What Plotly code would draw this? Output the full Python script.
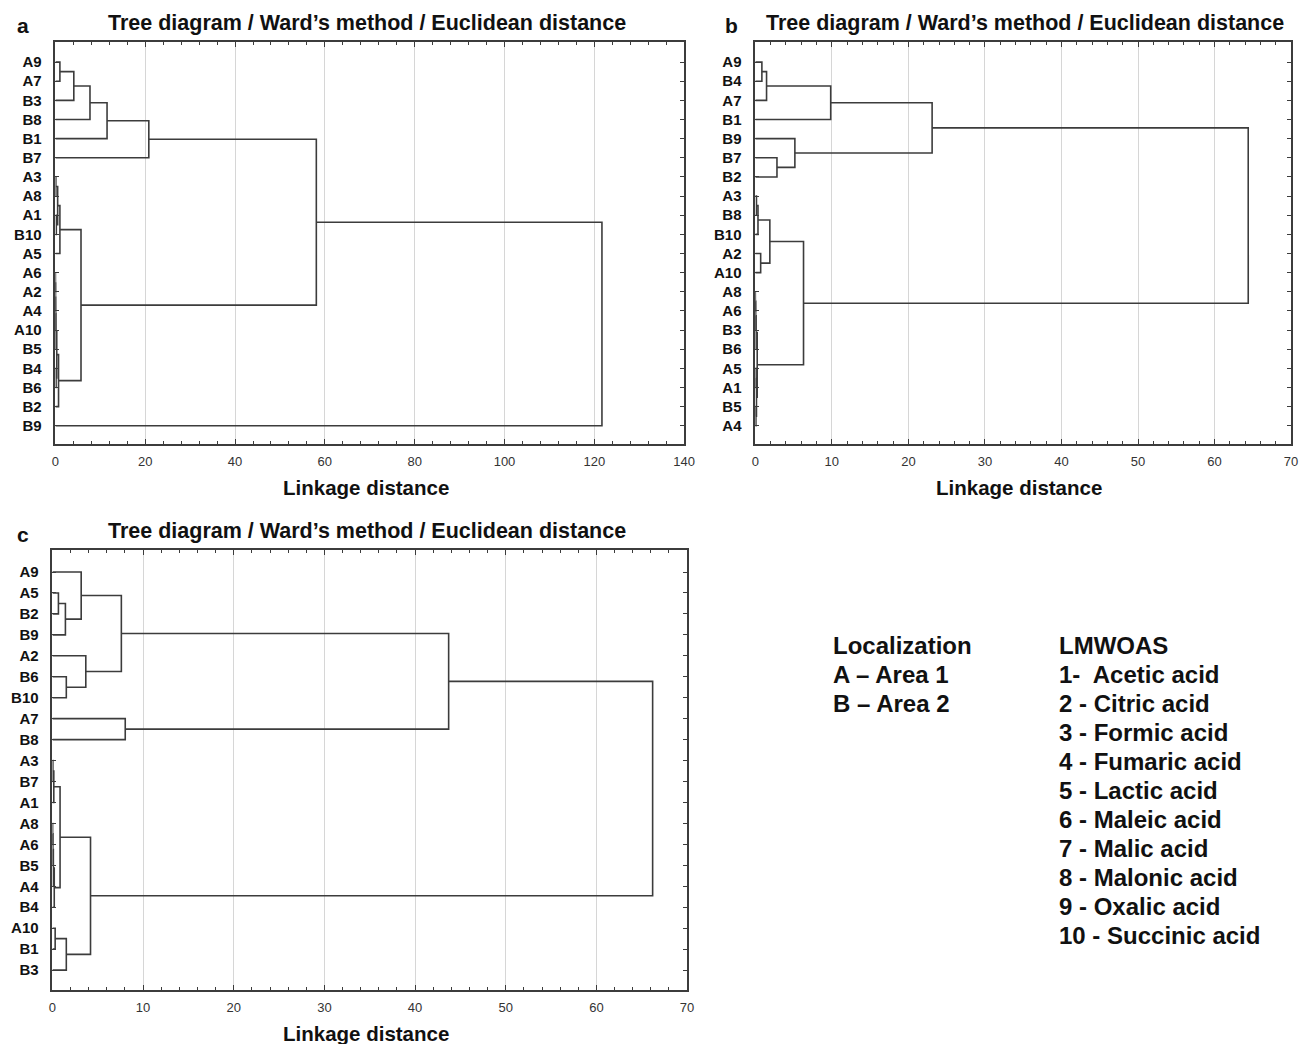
import plotly.graph_objects as go

# ---------------- data ----------------
leaves_a = ["A9", "A7", "B3", "B8", "B1", "B7", "A3", "A8", "A1", "B10",
            "A5", "A6", "A2", "A4", "A10", "B5", "B4", "B6", "B2", "B9"]
# merges: (child1, child2, linkage distance); ints refer to earlier merges
merges_a = [
    ("A9", "A7", 1.0),      # 0
    (0, "B3", 4.1),         # 1
    (1, "B8", 7.7),         # 2
    (2, "B1", 11.5),        # 3
    (3, "B7", 20.8),        # 4
    ("A3", "A8", 0.1),      # 5
    ("A1", "B10", 0.2),     # 6
    (5, 6, 0.5),            # 7
    (7, "A5", 1.0),         # 8
    ("A6", "A2", 0.02),     # 9
    (9, "A4", 0.03),        # 10
    (10, "A10", 0.05),      # 11
    (11, "B5", 0.1),        # 12
    ("B4", "B6", 0.15),     # 13
    (12, 13, 0.3),          # 14
    (14, "B2", 0.7),        # 15
    (8, 15, 5.7),           # 16
    (4, 16, 58.1),          # 17
    (17, "B9", 121.7),      # 18
]

leaves_b = ["A9", "B4", "A7", "B1", "B9", "B7", "B2", "A3", "B8", "B10",
            "A2", "A10", "A8", "A6", "B3", "B6", "A5", "A1", "B5", "A4"]
merges_b = [
    ("A9", "B4", 0.86),     # 0
    (0, "A7", 1.47),        # 1
    (1, "B1", 9.85),        # 2
    ("B7", "B2", 2.83),     # 3
    ("B9", 3, 5.17),        # 4
    (2, 4, 23.1),           # 5
    ("A3", "B8", 0.15),     # 6
    (6, "B10", 0.35),       # 7
    ("A2", "A10", 0.7),     # 8
    (7, 8, 1.9),            # 9
    ("A8", "A6", 0.02),     # 10
    (10, "B3", 0.05),       # 11
    (11, "B6", 0.1),        # 12
    ("A5", "A1", 0.1),      # 13
    ("B5", "A4", 0.08),     # 14
    (13, 14, 0.15),         # 15
    (12, 15, 0.25),         # 16
    (9, 16, 6.3),           # 17
    (5, 17, 64.4),          # 18
]

leaves_c = ["A9", "A5", "B2", "B9", "A2", "B6", "B10", "A7", "B8", "A3",
            "B7", "A1", "A8", "A6", "B5", "A4", "B4", "A10", "B1", "B3"]
merges_c = [
    ("A5", "B2", 0.66),     # 0
    (0, "B9", 1.43),        # 1
    ("A9", 1, 3.17),        # 2
    ("B6", "B10", 1.53),    # 3
    ("A2", 3, 3.68),        # 4
    (2, 4, 7.6),            # 5
    ("A7", "B8", 8.03),     # 6
    (5, 6, 43.7),           # 7
    ("A3", "B7", 0.05),     # 8
    (8, "A1", 0.15),        # 9
    ("A8", "A6", 0.02),     # 10
    (10, "B5", 0.05),       # 11
    (11, "A4", 0.1),        # 12
    (12, "B4", 0.2),        # 13
    (9, 13, 0.84),          # 14
    ("A10", "B1", 0.3),     # 15
    (15, "B3", 1.53),       # 16
    (14, 16, 4.2),          # 17
    (7, 17, 66.2),          # 18
]

x_max = [140, 70, 70]
x_major = [20, 10, 10]
x_minor = [4, 2, 2]

title_text = "Tree diagram / Ward\u2019s method / Euclidean distance"
axis_title = "Linkage distance"
panel_letters = ["a", "b", "c"]

legend_loc = ["Localization", "A \u2013 Area 1", "B \u2013 Area 2"]
legend_acids = ["LMWOAS", "1-  Acetic acid", "2 - Citric acid", "3 - Formic acid",
                "4 - Fumaric acid", "5 - Lactic acid", "6 - Maleic acid",
                "7 - Malic acid", "8 - Malonic acid", "9 - Oxalic acid",
                "10 - Succinic acid"]

# ---------------- helpers ----------------
W, H = 1311, 1044
FONT = "Liberation Sans, Arial, sans-serif"
LINE = "#3c3c3c"


def dendro_paths(leaves, merges):
    pos = {name: (0.0, float(i)) for i, name in enumerate(leaves)}
    nodes = []
    xs, ys = [], []

    def get(c):
        return nodes[c] if isinstance(c, int) else pos[c]

    for a, b, h in merges:
        ha, ya = get(a)
        hb, yb = get(b)
        xs += [ha, h, h, hb, None]
        ys += [ya, ya, yb, yb, None]
        nodes.append((h, (ya + yb) / 2.0))
    return xs, ys


def px_x(p):
    return p / W


def px_y(p):
    return 1 - p / H


panels = [
    dict(leaves=leaves_a, merges=merges_a, x=(52, 688), y=(42, 444),
         title_x=367, letter_x=18),
    dict(leaves=leaves_b, merges=merges_b, x=(760, 1302), y=(42, 444),
         title_x=1033, letter_x=735),
    dict(leaves=leaves_c, merges=merges_c, x=(49, 691), y=(550, 990),
         title_x=367, letter_x=18),
]

fig = go.Figure()
layout = dict(
    width=W, height=H,
    margin=dict(l=0, r=0, t=0, b=0),
    paper_bgcolor="white", plot_bgcolor="white",
    showlegend=False,
    font=dict(family=FONT, color="#111"),
)

annotations = []
for i, p in enumerate(panels):
    sfx = "" if i == 0 else str(i + 1)
    xs, ys = dendro_paths(p["leaves"], p["merges"])
    fig.add_trace(go.Scatter(
        x=xs, y=ys, mode="lines",
        line=dict(color=LINE, width=1.6),
        xaxis="x" + sfx, yaxis="y" + sfx, hoverinfo="skip",
    ))
    layout["xaxis" + sfx] = dict(
        domain=[px_x(p["x"][0]), px_x(p["x"][1])],
        anchor="y" + sfx,
        range=[0, x_max[i]],
        tickmode="linear", tick0=0, dtick=x_major[i],
        ticks="inside", ticklen=5, tickwidth=1, tickcolor=LINE,
        minor=dict(ticks="inside", ticklen=3, dtick=x_minor[i], tick0=0,
                   tickcolor=LINE, showgrid=False),
        showgrid=True, gridcolor="#d6d6d6", gridwidth=1,
        showline=True, linecolor=LINE, linewidth=1.6, mirror="ticks",
        zeroline=False,
        ticklabelstandoff=5,
        tickfont=dict(size=13, color="#333", family=FONT),
        fixedrange=True,
    )
    layout["yaxis" + sfx] = dict(
        domain=[px_y(p["y"][1]), px_y(p["y"][0])],
        anchor="x" + sfx,
        range=[19.95, -1.05],
        tickmode="array", tickvals=list(range(len(p["leaves"]))),
        ticktext=["<b>" + s + "</b>" for s in p["leaves"]],
        ticks="inside", ticklen=4, tickwidth=1, tickcolor=LINE,
        showgrid=False, zeroline=False,
        showline=True, linecolor=LINE, linewidth=1.6, mirror="ticks",
        ticklabelstandoff=9,
        tickfont=dict(size=15, color="#111", family=FONT),
        fixedrange=True,
    )

    cx = (p["x"][0] + p["x"][1]) / 2
    # title
    annotations.append(dict(
        text="<b>" + title_text + "</b>", xref="paper", yref="paper",
        x=px_x(p["title_x"]), y=px_y(p["y"][0] - 19), xanchor="center", yanchor="middle",
        showarrow=False, font=dict(size=21.5, color="#111", family=FONT),
    ))
    # panel letter
    annotations.append(dict(
        text="<b>" + panel_letters[i] + "</b>", xref="paper", yref="paper",
        x=px_x(p["letter_x"] + 1), y=px_y(p["y"][0] - 16), xanchor="center", yanchor="middle",
        showarrow=False, font=dict(size=21, color="#111", family=FONT),
    ))
    # axis title
    annotations.append(dict(
        text="<b>" + axis_title + "</b>", xref="paper", yref="paper",
        x=px_x(cx - 4), y=px_y(p["y"][1] + 43), xanchor="center", yanchor="middle",
        showarrow=False, font=dict(size=20.5, color="#111", family=FONT),
    ))

# legend text blocks
for k, t in enumerate(legend_loc):
    annotations.append(dict(
        text="<b>" + t + "</b>", xref="paper", yref="paper",
        x=px_x(837), y=px_y(645 + 29 * k), xanchor="left", yanchor="middle",
        showarrow=False, font=dict(size=24, color="#111", family=FONT),
    ))
for k, t in enumerate(legend_acids):
    annotations.append(dict(
        text="<b>" + t + "</b>", xref="paper", yref="paper",
        x=px_x(1065), y=px_y(645 + 29 * k), xanchor="left", yanchor="middle",
        showarrow=False, font=dict(size=24, color="#111", family=FONT),
    ))

layout["annotations"] = annotations
fig.update_layout(**layout)
fig.write_html("out.html",
               config={"displayModeBar": False},
               post_script="document.body.style.margin='0px';document.body.style.padding='0px';")
